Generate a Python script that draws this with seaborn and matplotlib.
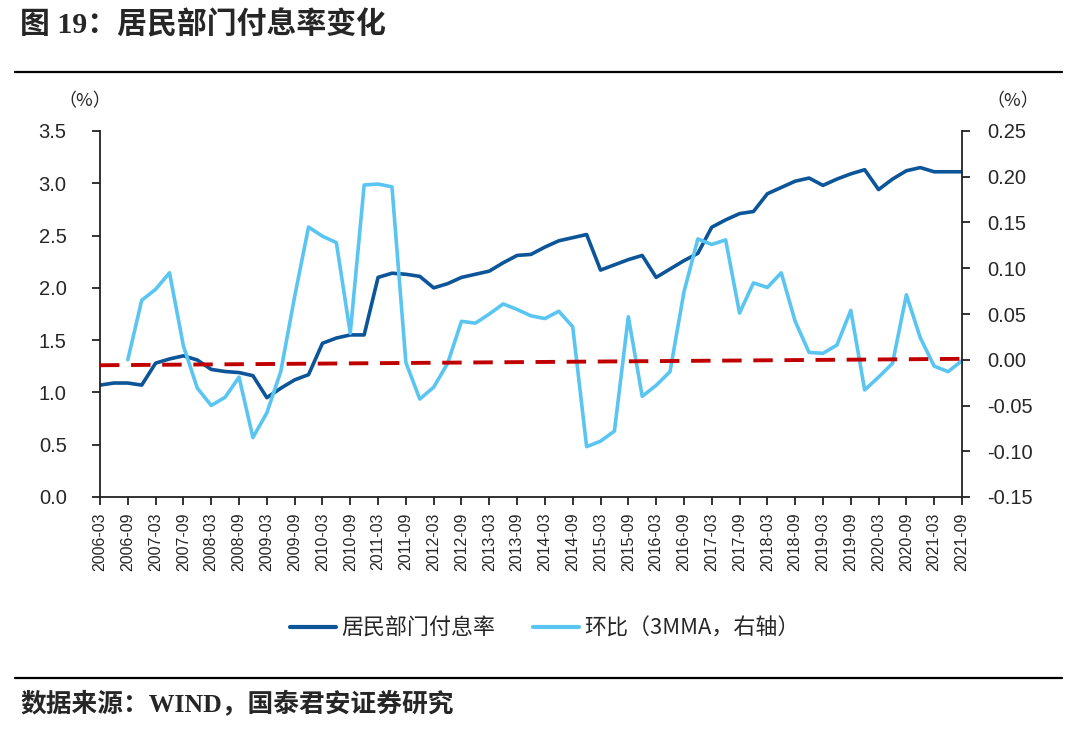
import numpy as np
import pandas as pd
import matplotlib
matplotlib.use("Agg")
import matplotlib.pyplot as plt
import seaborn as sns
from matplotlib.lines import Line2D

# 季度标签 2006-03 ... 2021-09
quarters = [f"{y}-{m:02d}" for y in range(2006, 2022) for m in (3, 6, 9, 12)][:63]

# 居民部门付息率 (%)，左轴
rate = [1.07, 1.09, 1.09, 1.07, 1.28, 1.32, 1.35, 1.31, 1.22, 1.20, 1.19, 1.16,
        0.95, 1.04, 1.12, 1.17, 1.47, 1.52, 1.55, 1.55, 2.10, 2.14, 2.13, 2.11,
        2.00, 2.04, 2.10, 2.13, 2.16, 2.24, 2.31, 2.32, 2.39, 2.45, 2.48, 2.51,
        2.17, 2.22, 2.27, 2.31, 2.10, 2.18, 2.26, 2.33, 2.58, 2.65, 2.71, 2.73,
        2.90, 2.96, 3.02, 3.05, 2.98, 3.04, 3.09, 3.13, 2.94, 3.04, 3.12, 3.15,
        3.11, 3.11, 3.11]

# 环比 (3MMA)，右轴，从 2006-09 开始
qoq = [np.nan, np.nan, 0.000, 0.065, 0.077, 0.095, 0.015, -0.031, -0.050, -0.041,
       -0.019, -0.085, -0.058, -0.013, 0.069, 0.145, 0.135, 0.128, 0.029, 0.191,
       0.192, 0.189, -0.003, -0.043, -0.030, -0.004, 0.042, 0.040, 0.050, 0.061,
       0.055, 0.048, 0.045, 0.053, 0.036, -0.095, -0.089, -0.078, 0.047, -0.040,
       -0.028, -0.013, 0.074, 0.132, 0.126, 0.131, 0.051, 0.084, 0.079, 0.095,
       0.042, 0.008, 0.007, 0.016, 0.054, -0.033, -0.019, -0.004, 0.071, 0.024,
       -0.007, -0.013, -0.001]

# 趋势线（右轴）起止值
trend_q = [quarters[0], quarters[-1]]
trend_v = [-0.006, 0.001]

sns.set_style("ticks")
plt.rcParams['font.family'] = ['Liberation Sans', 'Noto Sans CJK SC', 'DejaVu Sans']

df = pd.DataFrame({"q": quarters, "x": range(len(quarters)), "rate": rate, "qoq": qoq})
pos = {q: i for i, q in enumerate(quarters)}
tr = pd.DataFrame({"x": [pos[q] for q in trend_q], "v": trend_v})

dark = "#0B5598"
light = "#5BC5F2"
red = "#C00000"

fig = plt.figure(figsize=(10.8, 7.32), dpi=100)
ax = fig.add_axes([100 / 1080, 1 - 497 / 732, 862 / 1080, 366 / 732])
ax2 = ax.twinx()

sns.lineplot(data=df, x="x", y="rate", ax=ax, color=dark, linewidth=2.6, legend=False)
sns.lineplot(data=df.dropna(), x="x", y="qoq", ax=ax2, color=light, linewidth=2.6, legend=False)
sns.lineplot(data=tr, x="x", y="v", ax=ax2, color=red, linewidth=2.8, legend=False,
             linestyle=(0, (5, 3)))

ax.set_xlim(0, len(quarters) - 1)
ax.set_ylim(0, 3.5)
ax.set_yticks(np.arange(0, 3.51, 0.5))
ax.set_yticklabels([f"{v:.1f}" for v in np.arange(0, 3.51, 0.5)], fontsize=14.5)
ax2.set_ylim(-0.15, 0.25)
ax2.set_yticks(np.arange(-0.15, 0.251, 0.05))
ax2.set_yticklabels([f"{v:.2f}" for v in np.arange(-0.15, 0.251, 0.05)], fontsize=14.5)

ticks = list(range(0, len(quarters), 2))
ax.set_xticks(ticks)
ax.set_xticklabels([quarters[i] for i in ticks], rotation=90, fontsize=11.5)
ax.set_xlabel("")
ax.set_ylabel("")
ax2.set_ylabel("")

for a in (ax, ax2):
    a.spines['top'].set_visible(False)
    for s in ('left', 'right', 'bottom'):
        a.spines[s].set_linewidth(1.3)
        a.spines[s].set_color("#222222")
    a.tick_params(direction='out', length=6, width=1.3, color="#222222")
ax.tick_params(axis='y', pad=18)
ax.tick_params(axis='x', pad=5)
ax2.tick_params(axis='y', pad=12)
ax.spines['right'].set_visible(False)
ax2.spines['left'].set_visible(False)
ax2.spines['bottom'].set_visible(False)

cjk = ['Noto Sans CJK SC']
fig.text(85 / 1080, 1 - 101 / 732, "（%）", ha='center', va='center', fontsize=13, family=cjk)
fig.text(1013 / 1080, 1 - 101 / 732, "（%）", ha='center', va='center', fontsize=13, family=cjk)

handles = [Line2D([], [], color=dark, linewidth=3),
           Line2D([], [], color=light, linewidth=3)]
fig.legend(handles, ["居民部门付息率", "环比（3MMA，右轴）"], loc='center',
           bbox_to_anchor=(545 / 1080, 1 - 629 / 732), ncol=2, frameon=False,
           prop={'family': cjk, 'size': 15.8},
           handlelength=2.1, columnspacing=1.7, handletextpad=0.25)

serif = ['Liberation Serif', 'Noto Sans CJK SC']
fig.text(20 / 1080, 1 - 25 / 732, "图 19：居民部门付息率变化", ha='left', va='center',
         fontsize=21.5, fontweight='bold', family=serif)
fig.add_artist(Line2D([15 / 1080, 1062 / 1080], [1 - 72 / 732, 1 - 72 / 732],
                      color='black', linewidth=1.6))
fig.add_artist(Line2D([15 / 1080, 1062 / 1080], [1 - 678 / 732, 1 - 678 / 732],
                      color='black', linewidth=1.6))
fig.text(20 / 1080, 1 - 703 / 732, "数据来源：WIND，国泰君安证券研究", ha='left', va='center',
         fontsize=18.5, fontweight='bold', family=serif)

fig.savefig("out.png", dpi=100, facecolor='white')
